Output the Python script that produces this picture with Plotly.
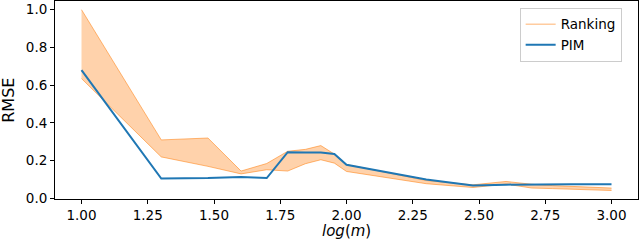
import numpy as np
import plotly.graph_objects as go

m_values = [10, 20, 30, 40, 50, 60, 70, 80, 90, 100, 200, 300, 400, 500, 600, 700, 800, 900, 1000]
pim = [0.68, 0.105, 0.108, 0.114, 0.108, 0.245, 0.244, 0.243, 0.235, 0.178, 0.10, 0.068, 0.073, 0.075, 0.075, 0.075, 0.075, 0.075, 0.075]
ranking_upper = [1.0, 0.31, 0.32, 0.145, 0.185, 0.25, 0.26, 0.28, 0.235, 0.18, 0.095, 0.072, 0.09, 0.075, 0.068, 0.064, 0.061, 0.058, 0.055]
ranking_lower = [0.635, 0.22, 0.17, 0.13, 0.152, 0.145, 0.184, 0.205, 0.187, 0.143, 0.078, 0.058, 0.076, 0.055, 0.052, 0.05, 0.047, 0.045, 0.042]

x_ticks = [1.00, 1.25, 1.50, 1.75, 2.00, 2.25, 2.50, 2.75, 3.00]
y_ticks = [0.0, 0.2, 0.4, 0.6, 0.8, 1.0]

x = np.log10(m_values)

orange_line = "rgba(255,127,14,0.55)"
orange_fill = "rgba(255,127,14,0.35)"
blue = "#1f77b4"
font = "DejaVu Sans"

fig = go.Figure()
fig.add_trace(go.Scatter(x=x, y=ranking_lower, mode="lines",
                         line=dict(color=orange_line, width=1), showlegend=False, hoverinfo="skip"))
fig.add_trace(go.Scatter(x=x, y=ranking_upper, mode="lines", fill="tonexty", fillcolor=orange_fill,
                         line=dict(color=orange_line, width=1), showlegend=False, hoverinfo="skip"))
fig.add_trace(go.Scatter(x=[None], y=[None], mode="lines", name="Ranking",
                         line=dict(color="rgba(255,127,14,0.4)", width=1.5)))
fig.add_trace(go.Scatter(x=x, y=pim, mode="lines", name="PIM",
                         line=dict(color=blue, width=2)))

axis_common = dict(showline=True, linecolor="black", linewidth=1, mirror=True,
                   ticks="outside", ticklen=4, tickcolor="black", showgrid=False, zeroline=False,
                   automargin=False,
                   tickfont=dict(family=font, size=13.5, color="black"))

fig.update_layout(
    width=640, height=241,
    margin=dict(l=55, r=2, t=1, b=42),
    plot_bgcolor="white", paper_bgcolor="white",
    font=dict(family=font, color="black"),
    xaxis=dict(range=[0.9, 3.1], tickvals=x_ticks, ticktext=[f"{v:.2f}" for v in x_ticks],
               **axis_common),
    yaxis=dict(range=[-0.003, 1.046], tickvals=y_ticks, ticktext=[f"{v:.1f}" for v in y_ticks],
               **axis_common),
    legend=dict(x=0.797, y=0.965, xanchor="left", yanchor="top", traceorder="normal",
                bgcolor="rgba(255,255,255,0.8)", bordercolor="#cccccc", borderwidth=1,
                font=dict(family=font, size=13.5), itemwidth=30, tracegroupgap=0),
    annotations=[
        dict(text="<i>log</i>(<i>m</i>)", xref="paper", yref="paper", x=0.5, y=-0.163,
             xanchor="center", yanchor="middle", showarrow=False,
             font=dict(family=font, size=15, color="black")),
        dict(text="RMSE", xref="paper", yref="paper", x=-0.081, y=0.5, textangle=-90,
             xanchor="center", yanchor="middle", showarrow=False,
             font=dict(family=font, size=16, color="black")),
    ],
)

fig.write_html("out.html", config={"displayModeBar": False},
               post_script="document.body.style.margin='0';document.body.style.overflow='hidden';")
